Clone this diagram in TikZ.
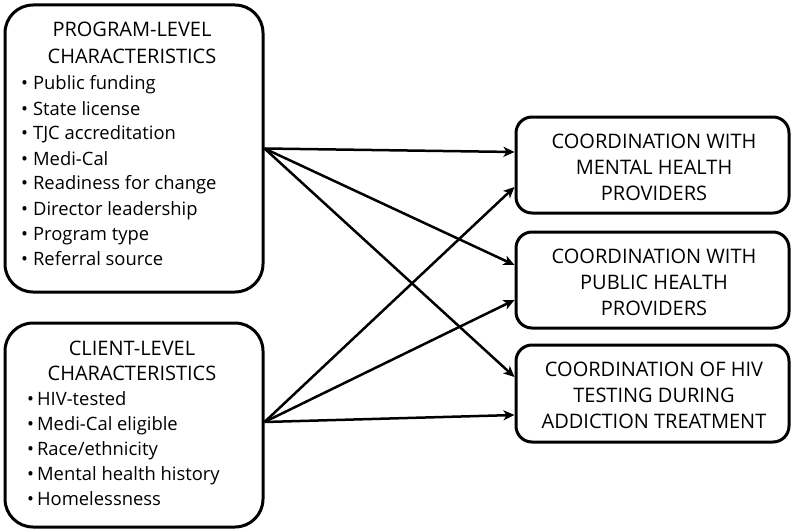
\documentclass[tikz,border=0pt]{standalone}
\usepackage{fontspec}
\setmainfont{Open Sans}
\usetikzlibrary{arrows.meta,calc}
\begin{document}
\begin{tikzpicture}[x=1pt,y=-1pt,
  box/.style={draw, line width=3pt, rounded corners=28pt, inner sep=0pt},
  outbox/.style={draw, line width=3pt, rounded corners=16pt, minimum width=273pt, minimum height=96pt, inner sep=0pt},
  outtxt/.style={align=center, font=\fontsize{20}{25.7}\selectfont, inner sep=0pt},
  ttl/.style={font=\fontsize{20}{25}\selectfont, inner sep=0pt},
  txt/.style={font=\fontsize{18.4}{25}\selectfont, inner sep=0pt},
  arr/.style={line width=2.5pt, -{Stealth[length=11pt,width=10pt,inset=3pt]}}
]
\useasboundingbox (0,0) rectangle (794,532);
% left boxes
\node[box, minimum width=258pt, minimum height=287pt] (prog) at (134,148.5) {};
\node[box, minimum width=258pt, minimum height=204pt] (client) at (134,425) {};
% program text
\node[ttl, anchor=base] (pt1) at (132,37) {PROGRAM-LEVEL};
\node[ttl, anchor=base] (pt2) at (132,64) {CHARACTERISTICS};
\node[txt, anchor=base west] (plist) at (21,90) {\begin{tabular}[t]{@{}l@{\hspace{5pt}}l@{}}
•&Public funding\\
•&State license\\
•&TJC accreditation\\
•&Medi-Cal\\
•&Readiness for change\\
•&Director leadership\\
•&Program type\\
•&Referral source
\end{tabular}};
% client text
\node[ttl, anchor=base] (ct1) at (132,355) {CLIENT-LEVEL};
\node[ttl, anchor=base] (ct2) at (132,380) {CHARACTERISTICS};
\node[txt, anchor=base west] (clist) at (27,405) {\begin{tabular}[t]{@{}l@{\hspace{3pt}}l@{}}
•&HIV-tested\\
•&Medi-Cal eligible\\
•&Race/ethnicity\\
•&Mental health history\\
•&Homelessness
\end{tabular}};
% right boxes
\node[outbox] (mh) at (652.5,165) {};
\node[outbox] (ph) at (652.5,280) {};
\node[outbox, minimum height=97pt] (hiv) at (652.5,393.5) {};
\node[outtxt] (mht) at ($(mh.center)+(1.5,2.5)$) {COORDINATION WITH\\MENTAL HEALTH\\PROVIDERS};
\node[outtxt] (pht) at ($(ph.center)+(1.5,2.5)$) {COORDINATION WITH\\PUBLIC HEALTH\\PROVIDERS};
\node[outtxt] (hivt) at ($(hiv.center)+(1.5,2)$) {COORDINATION OF HIV\\TESTING DURING\\ADDICTION TREATMENT};
% arrow endpoints
\coordinate (ps) at (prog.east);
\coordinate (cs) at ($(client.east)+(0,-3)$);
\coordinate (mh1) at ($(mh.west)+(0,-13)$);
\coordinate (mh2) at ($(mh.west)+(0,22)$);
\coordinate (ph1) at ($(ph.west)+(0,-15)$);
\coordinate (ph2) at ($(ph.west)+(0,20)$);
\coordinate (hiv1) at ($(hiv.west)+(0,-16.5)$);
\coordinate (hiv2) at ($(hiv.west)+(0,21.5)$);
\draw[arr] (ps) -- (mh1);
\draw[arr] (ps) -- (ph1);
\draw[arr] (ps) -- (hiv1);
\draw[arr] (cs) -- (mh2);
\draw[arr] (cs) -- (ph2);
\draw[arr] (cs) -- (hiv2);
\end{tikzpicture}
\end{document}
